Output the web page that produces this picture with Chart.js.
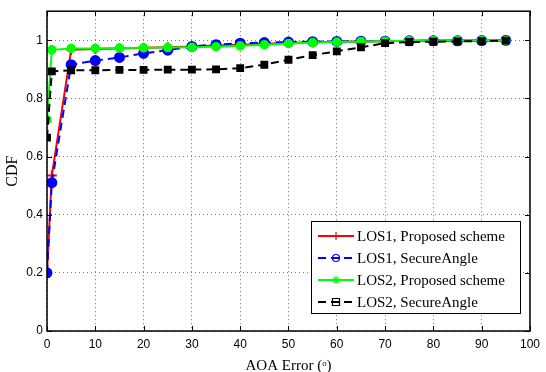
<!DOCTYPE html>
<html><head><meta charset="utf-8">
<script src="https://cdn.jsdelivr.net/npm/chart.js@4/dist/chart.umd.min.js"></script>
<style>html,body{margin:0;padding:0;background:#fff}#wrap{width:546px;height:372px}</style>
</head><body><div id="wrap"><canvas id="c" width="546" height="372"></canvas></div>
<script>
const xVals = [0, 1, 5, 10, 15, 20, 25, 30, 35, 40, 45, 50, 55, 60, 65, 70, 75, 80, 85, 90, 95];
const los1Proposed = [0.20, 0.535, 0.967, 0.970, 0.972, 0.974, 0.976, 0.979, 0.982, 0.985, 0.988, 0.991, 0.993, 0.995, 0.996, 0.997, 0.998, 0.999, 0.999, 1.0, 1.0];
const los1Secure = [0.20, 0.51, 0.916, 0.930, 0.941, 0.955, 0.966, 0.979, 0.985, 0.990, 0.992, 0.994, 0.995, 0.996, 0.997, 0.997, 0.998, 0.998, 0.998, 0.999, 1.0];
const los2Proposed = [0.727, 0.967, 0.972, 0.972, 0.973, 0.974, 0.975, 0.976, 0.978, 0.981, 0.985, 0.989, 0.992, 0.994, 0.996, 0.997, 0.998, 0.999, 0.999, 1.0, 1.0];
const los2Secure = [0.665, 0.893, 0.897, 0.897, 0.898, 0.898, 0.899, 0.899, 0.900, 0.904, 0.916, 0.933, 0.949, 0.962, 0.976, 0.990, 0.994, 0.995, 0.996, 0.997, 0.999];
const seriesNames = ['LOS1, Proposed scheme', 'LOS1, SecureAngle', 'LOS2, Proposed scheme', 'LOS2, SecureAngle'];
const xTicks = [0,10,20,30,40,50,60,70,80,90,100];
const yTicks = [0,0.2,0.4,0.6,0.8,1];

const pts = arr => arr.map((v,i)=>({x:xVals[i], y:v}));

const legendPlugin = {
  id:'boxLegend',
  afterDraw(chart){
    const ctx = chart.ctx;
    const x0=311, y0=221, w=209, h=92;
    ctx.save();
    ctx.fillStyle='#fff'; ctx.fillRect(x0,y0,w,h);
    ctx.strokeStyle='#000'; ctx.lineWidth=1; ctx.setLineDash([]);
    ctx.strokeRect(x0+0.5,y0+0.5,w,h);
    const rows=[236,258,280,302];
    chart.data.datasets.forEach((ds,i)=>{
      const y=rows[i];
      ctx.strokeStyle=ds.borderColor; ctx.lineWidth=2;
      ctx.setLineDash(ds.borderDash||[]);
      ctx.beginPath(); ctx.moveTo(318,y); ctx.lineTo(354,y); ctx.stroke();
      ctx.setLineDash([]);
      ctx.lineWidth=1.2;
      const cx=336;
      ctx.beginPath();
      if(i===0){ctx.moveTo(cx,y-4);ctx.lineTo(cx,y+4);ctx.moveTo(cx-4,y);ctx.lineTo(cx+4,y);ctx.stroke();}
      else if(i===1){ctx.arc(cx,y,3.5,0,Math.PI*2);ctx.moveTo(cx-3.5,y);ctx.lineTo(cx+3.5,y);ctx.stroke();}
      else if(i===2){for(let k=0;k<4;k++){const a=k*Math.PI/4;ctx.moveTo(cx-4*Math.cos(a),y-4*Math.sin(a));ctx.lineTo(cx+4*Math.cos(a),y+4*Math.sin(a));}ctx.stroke();}
      else {ctx.rect(cx-3.5,y-3.5,7,7);ctx.moveTo(cx-3.5,y);ctx.lineTo(cx+3.5,y);ctx.stroke();}
      ctx.fillStyle='#000'; ctx.font='15px "Liberation Serif"';
      ctx.textBaseline='middle'; ctx.textAlign='left';
      ctx.fillText(seriesNames[i],357,y+1);
    });
    ctx.restore();
  }
};

const frameTicks = {
  id:'frameTicks',
  afterDatasetsDraw(chart){
    const {ctx, chartArea:a, scales:{x,y}} = chart;
    ctx.save();
    ctx.strokeStyle='#000'; ctx.lineWidth=1; ctx.setLineDash([]);
    ctx.beginPath();
    xTicks.forEach(t=>{const px=Math.round(x.getPixelForValue(t))+0.5;
      ctx.moveTo(px,a.bottom);ctx.lineTo(px,a.bottom-5);ctx.moveTo(px,a.top);ctx.lineTo(px,a.top+5);});
    yTicks.forEach(t=>{const py=Math.round(y.getPixelForValue(t))+0.5;
      ctx.moveTo(a.left,py);ctx.lineTo(a.left+5,py);ctx.moveTo(a.right,py);ctx.lineTo(a.right-5,py);});
    ctx.stroke();
    ctx.lineWidth=1.5;
    ctx.strokeRect(a.left,a.top,a.right-a.left,a.bottom-a.top);
    ctx.restore();
  }
};

new Chart(document.getElementById('c'), {
  type:'line',
  data:{datasets:[
    {label:seriesNames[0], data:pts(los1Proposed), borderColor:'#ff0000', backgroundColor:'#ff0000', borderWidth:2, pointStyle:'cross', pointRadius:5, pointBorderWidth:2, order:4},
    {label:seriesNames[1], data:pts(los1Secure), borderColor:'#0000ff', backgroundColor:'#0000ff', borderWidth:2, borderDash:[8,5], pointStyle:'circle', pointRadius:4.5, pointBorderWidth:2, order:3},
    {label:seriesNames[2], data:pts(los2Proposed), borderColor:'#00ff00', backgroundColor:'#00ff00', borderWidth:2, pointStyle:'circle', pointRadius:4, pointBorderWidth:1.5, order:2},
    {label:seriesNames[3], data:pts(los2Secure), borderColor:'#000000', backgroundColor:'#000000', borderWidth:2, borderDash:[8,5], pointStyle:'rect', pointRadius:4.5, pointBorderWidth:1.5, order:1}
  ]},
  options:{
    responsive:false, animation:false,
    layout:{padding:{left:0,right:11,top:10,bottom:0}},
    plugins:{legend:{display:false}, tooltip:{enabled:false}},
    scales:{
      x:{type:'linear', min:0, max:100,
        afterBuildTicks:s=>{s.ticks=xTicks.map(v=>({value:v}));},
        afterFit:s=>{s.height=41;},
        grid:{color:'#777', lineWidth:1, drawTicks:false},
        border:{display:false, dash:[1,3]},
        ticks:{color:'#000', font:{family:'"Liberation Sans"', size:12}, padding:6, maxRotation:0},
        title:{display:true, text:'AOA Error (ᵒ)', color:'#000', font:{family:'"Liberation Serif"', size:15}, padding:{top:7,bottom:-3}}
      },
      y:{min:0, max:1.1,
        afterBuildTicks:s=>{s.ticks=yTicks.map(v=>({value:v}));},
        afterFit:s=>{s.width=47;},
        grid:{color:'#777', lineWidth:1, drawTicks:false},
        border:{display:false, dash:[1,3]},
        ticks:{color:'#000', font:{family:'"Liberation Sans"', size:12}, padding:4, callback:v=>String(Math.round(v*10)/10)},
        title:{display:true, text:'CDF', color:'#000', font:{family:'"Liberation Serif"', size:16}, padding:{top:3,bottom:2}}
      }
    }
  },
  plugins:[frameTicks, legendPlugin]
});
</script></body></html>
